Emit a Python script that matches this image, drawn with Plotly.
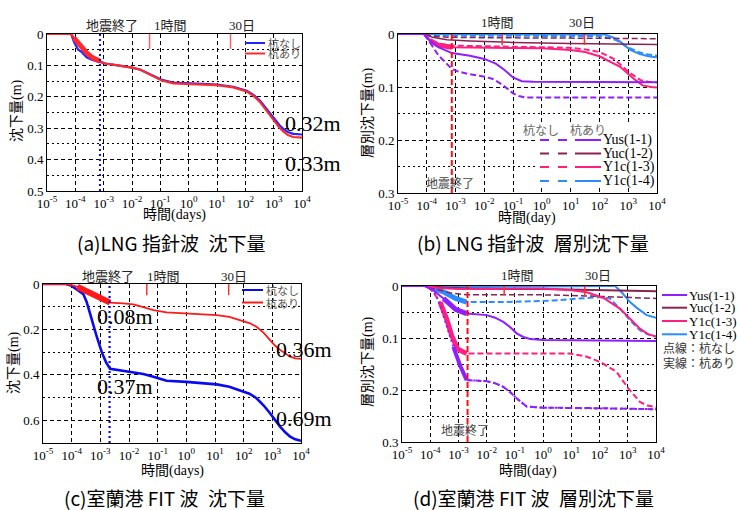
import plotly.graph_objects as go

W, H = 737, 510

# ---------------- tick labels / events ----------------
X_TICK_EXP = [-5, -4, -3, -2, -1, 0, 1, 2, 3, 4]
X_TICK_TEXT = ["10<sup>-5</sup>", "10<sup>-4</sup>", "10<sup>-3</sup>", "10<sup>-2</sup>", "10<sup>-1</sup>",
               "10<sup>0</sup>", "10<sup>1</sup>", "10<sup>2</sup>", "10<sup>3</sup>", "10<sup>4</sup>"]
Y_TICKS_A = [0, 0.1, 0.2, 0.3, 0.4, 0.5]
Y_MINOR_A = [0.05, 0.15, 0.25, 0.35, 0.45]
Y_TICKS_B = [0, 0.1, 0.2, 0.3]
Y_MINOR_B = [0.05, 0.15, 0.25]
Y_TICKS_C = [0, 0.2, 0.4, 0.6]
Y_MINOR_C = [0.1, 0.3, 0.5, 0.7]

T_1HOUR = 1 / 24
T_30DAYS = 30
T_EQ_END_LNG = 7.4e-4
T_EQ_END_FIT = 2.1e-3

# ---------------- (a) LNG 指針波 沈下量 ----------------
A_LOGT = [-5.0, -4.15, -4.05, -3.9, -3.77, -3.6, -3.4, -3.13, -2.95, -2.5, -2.0, -1.7, -1.42, -1.2, -0.95,
          -0.54, 0.0, 0.5, 1.0, 1.57, 2.05, 2.3, 2.52, 2.75, 3.0, 3.2, 3.34, 3.5, 3.69, 4.0]
A_NASHI = [0.0, 0.0, 0.025, 0.05, 0.058, 0.074, 0.083, 0.09, 0.094, 0.1, 0.107, 0.114, 0.125, 0.136, 0.146,
           0.155, 0.158, 0.159, 0.161, 0.168, 0.181, 0.195, 0.213, 0.24, 0.266, 0.29, 0.302, 0.312, 0.318, 0.32]
A_ARI = [0.0, 0.0, 0.012, 0.03, 0.045, 0.06, 0.075, 0.087, 0.094, 0.1, 0.107, 0.114, 0.126, 0.138, 0.148,
         0.157, 0.16, 0.161, 0.163, 0.17, 0.183, 0.198, 0.217, 0.245, 0.273, 0.298, 0.31, 0.322, 0.328, 0.33]

# ---------------- (b) LNG 指針波 層別沈下量 ----------------
B_YUS_NASHI_LOGT = [-5, -4.1, -3.9, -3.6, -3.13, -2.9, -2.5, -2.03, -1.7, -1.45, -1.2, -1.0, -0.8, -0.55, 0, 4]
B_YUS_NASHI = [0, 0, 0.015, 0.04, 0.066, 0.071, 0.076, 0.080, 0.085, 0.093, 0.103, 0.112, 0.117, 0.12, 0.12, 0.12]
B_YUS_ARI_LOGT = [-5, -4.1, -3.9, -3.6, -3.13, -2.5, -2.0, -1.6, -1.3, -1.0, -0.7, -0.3, 4]
B_YUS_ARI = [0, 0, 0.012, 0.025, 0.036, 0.041, 0.047, 0.056, 0.068, 0.082, 0.089, 0.09, 0.091]
B_YUC_NASHI_LOGT = [-5, -4.1, -3.8, -3.3, -2, 0, 2, 4]
B_YUC_NASHI = [0, 0, 0.004, 0.006, 0.007, 0.007, 0.008, 0.009]
B_YUC_ARI_LOGT = [-5, -4.1, -3.8, -3.3, -2.5, -1, 1, 2, 4]
B_YUC_ARI = [0, 0, 0.006, 0.011, 0.013, 0.016, 0.018, 0.019, 0.02]
B_Y13_NASHI_LOGT = [-5, -4.1, -3.9, -3.6, -3.13, -2, 0, 1, 1.5, 2.0, 2.5, 3.07, 3.43, 3.7, 4]
B_Y13_NASHI = [0, 0, 0.01, 0.018, 0.022, 0.023, 0.024, 0.026, 0.029, 0.034, 0.047, 0.074, 0.087, 0.09, 0.091]
B_Y13_ARI_LOGT = [-5, -4.1, -3.9, -3.6, -3.13, -2, 0, 1, 1.5, 2.0, 2.72, 3.18, 3.5, 3.8, 4]
B_Y13_ARI = [0, 0, 0.012, 0.021, 0.025, 0.026, 0.027, 0.03, 0.034, 0.042, 0.062, 0.084, 0.097, 0.1, 0.101]
B_Y14_NASHI_LOGT = [-5, -4.1, -3.8, -3.0, 2.0, 2.3, 2.6, 2.95, 3.3, 3.6, 4]
B_Y14_NASHI = [0, 0, 0.002, 0.003, 0.004, 0.007, 0.012, 0.024, 0.033, 0.038, 0.041]
B_Y14_ARI_LOGT = [-5, -4.1, -3.5, 2.19, 2.45, 2.72, 3.07, 3.41, 3.7, 4]
B_Y14_ARI = [0, 0, 0.001, 0.001, 0.006, 0.0145, 0.03, 0.038, 0.042, 0.044]

# ---------------- (c) 室蘭港 FIT 波 沈下量 ----------------
C_NASHI_LOGT = [-5, -4.2, -4.0, -3.85, -3.71, -3.59, -3.48, -3.36, -3.25, -3.13, -2.95, -2.8, -2.66, -2.3, -1.85,
                -1.5, -1.15, -0.69, 0, 1.06, 1.5, 1.87, 2.2, 2.45, 2.7, 2.92, 3.1, 3.27, 3.45, 3.62, 3.8, 4]
C_NASHI = [0, 0, 0.008, 0.02, 0.034, 0.045, 0.078, 0.129, 0.18, 0.23, 0.3, 0.345, 0.373, 0.38, 0.386,
           0.396, 0.408, 0.426, 0.431, 0.442, 0.452, 0.467, 0.483, 0.503, 0.535, 0.569, 0.6, 0.628, 0.653, 0.672,
           0.684, 0.69]
C_ARI_LOGT = [-5, -4.2, -4.0, -3.8, -3.59, -3.3, -3.0, -2.8, -2.66, -2.2, -1.85, -1.5, -1.15, -0.69, 0, 1.06,
              1.5, 1.87, 2.2, 2.45, 2.7, 2.92, 3.1, 3.27, 3.45, 3.62, 3.8, 4]
C_ARI = [0, 0, 0.005, 0.012, 0.025, 0.045, 0.063, 0.075, 0.082, 0.085, 0.09, 0.102, 0.115, 0.125, 0.13, 0.137,
         0.145, 0.158, 0.172, 0.188, 0.215, 0.247, 0.272, 0.29, 0.307, 0.32, 0.327, 0.33]

# ---------------- (d) 室蘭港 FIT 波 層別沈下量 ----------------
D_YUS_NASHI_LOGT = [-5, -4.2, -3.95, -3.8, -3.65, -3.42, -3.18, -2.94, -2.71, -2.0, -1.7, -1.41, -1.15, -0.94,
                    -0.58, 0, 2, 4]
D_YUS_NASHI = [0, 0, 0.005, 0.018, 0.037, 0.076, 0.117, 0.153, 0.181, 0.183, 0.187, 0.194, 0.205, 0.216,
               0.232, 0.234, 0.235, 0.237]
D_YUS_ARI_LOGT = [-5, -4.2, -3.9, -3.53, -3.1, -2.71, -2.0, -1.7, -1.41, -1.15, -0.94, -0.7, -0.46, 0, 4]
D_YUS_ARI = [0, 0, 0.008, 0.024, 0.045, 0.053, 0.056, 0.061, 0.069, 0.08, 0.091, 0.098, 0.102, 0.104, 0.106]
D_YUC_NASHI_LOGT = [-5, -4.2, -3.8, -3.3, -2.71, 0, 1.5, 2.5, 4]
D_YUC_NASHI = [0, 0, 0.006, 0.013, 0.017, 0.017, 0.019, 0.021, 0.024]
D_YUC_ARI_LOGT = [-5, -4.2, -3.5, -2.7, 0, 2, 4]
D_YUC_ARI = [0, 0, 0.003, 0.005, 0.006, 0.008, 0.01]
D_Y13_NASHI_LOGT = [-5, -4.1, -3.89, -3.65, -3.42, -3.24, -3.03, -2.71, 0, 0.95, 1.5, 2.02, 2.6, 3.02, 3.43,
                    3.7, 4]
D_Y13_NASHI = [0, 0, 0.012, 0.031, 0.063, 0.095, 0.121, 0.13, 0.13, 0.13, 0.135, 0.146, 0.165, 0.197, 0.223,
               0.23, 0.233]
D_Y13_ARI_LOGT = [-5, -4.1, -3.7, -3.0, -1, 0, 1.0, 1.55, 2.14, 2.73, 3.08, 3.43, 3.7, 4]
D_Y13_ARI = [0, 0, 0.004, 0.006, 0.005, 0.005, 0.008, 0.012, 0.023, 0.044, 0.063, 0.082, 0.092, 0.097]
D_Y14_NASHI_LOGT = [-5, -4.1, -3.9, -3.5, -3.1, -2.71, -1.5, 0.36, 1.55, 2.02, 2.37, 2.73, 3.08, 3.43, 3.7, 4]
D_Y14_NASHI = [0, 0, 0.004, 0.012, 0.024, 0.031, 0.031, 0.028, 0.023, 0.021, 0.024, 0.044, 0.066, 0.085,
               0.093, 0.097]
D_Y14_ARI_LOGT = [-5, -4.1, -3.5, -2.7, 2.3, 2.55, 2.8, 3.08, 3.32, 3.67, 4]
D_Y14_ARI = [0, 0, 0.002, 0.002, 0.0, 0.0, 0.013, 0.031, 0.042, 0.056, 0.061]

LAYER_NAMES = ["Yus(1-1)", "Yuc(1-2)", "Y1c(1-3)", "Y1c(1-4)"]

# ---------------- styles ----------------
SERIF = "Liberation Serif, Noto Sans CJK JP"
SANS = "Noto Sans CJK JP"
C_BLUE_A, C_RED_A = "#2424FF", "#FF2A2A"
C_BLUE_C, C_RED_C = "#0A0AF0", "#FF1A1A"
C_PURPLE, C_MAROON, C_PINK, C_SKY = "#8F1FFF", "#8B2252", "#FF1F7F", "#2A8CFF"
LAYER_COLORS = [C_PURPLE, C_MAROON, C_PINK, C_SKY]
DASH = "6px,3px"
GRID_DASH = "4px,3px"
GRID_DOT = "2px,3px"

# plot areas in pixels (x0, x1, y0(top), y1(bottom))
DOM = {
    "a": (47, 302, 34, 191),
    "b": (398, 657, 34, 193),
    "c": (43, 301, 284, 443),
    "d": (402, 656, 286, 442),
}
AX = {"a": ("x", "y"), "b": ("x2", "y2"), "c": ("x3", "y3"), "d": ("x4", "y4")}


def tvals(logt):
    return [10 ** v for v in logt]


def seg(logt, vals, lo, hi):
    pts = [(t, v) for t, v in zip(logt, vals) if lo <= t <= hi]
    return [p[0] for p in pts], [p[1] for p in pts]


fig = go.Figure()


def line(panel, logt, vals, color, width=2, dash=None):
    xa, ya = AX[panel]
    fig.add_trace(go.Scatter(x=tvals(logt), y=vals, mode="lines", xaxis=xa, yaxis=ya, showlegend=False,
                             line=dict(color=color, width=width, dash=dash), hoverinfo="skip"))


def band(panel, logt, vals, lo, hi, color, width):
    lt, vv = seg(logt, vals, lo, hi)
    line(panel, lt, vv, color, width)


# (a)
line("a", A_LOGT, A_NASHI, C_BLUE_A, 2.2)
line("a", A_LOGT, A_ARI, C_RED_A, 2.2)
band("a", A_LOGT, A_ARI, -4.1, -3.0, C_RED_A, 5)

# (b)
line("b", B_Y14_NASHI_LOGT, B_Y14_NASHI, C_SKY, 2, DASH)
line("b", B_Y14_ARI_LOGT, B_Y14_ARI, C_SKY, 2)
line("b", B_YUC_NASHI_LOGT, B_YUC_NASHI, C_MAROON, 1.5, DASH)
line("b", B_YUC_ARI_LOGT, B_YUC_ARI, C_MAROON, 1.5)
line("b", B_Y13_NASHI_LOGT, B_Y13_NASHI, C_PINK, 2, DASH)
line("b", B_Y13_ARI_LOGT, B_Y13_ARI, C_PINK, 2)
band("b", B_Y13_ARI_LOGT, B_Y13_ARI, -3.9, -3.13, C_PINK, 5)
line("b", B_YUS_NASHI_LOGT, B_YUS_NASHI, C_PURPLE, 2, DASH)
line("b", B_YUS_ARI_LOGT, B_YUS_ARI, C_PURPLE, 2)

# (c)
line("c", C_NASHI_LOGT, C_NASHI, C_BLUE_C, 2.6)
line("c", C_ARI_LOGT, C_ARI, C_RED_C, 1.8)
band("c", C_ARI_LOGT, C_ARI, -3.8, -2.66, C_RED_C, 6)

# (d)
line("d", D_Y14_NASHI_LOGT, D_Y14_NASHI, C_SKY, 2, DASH)
band("d", D_Y14_NASHI_LOGT, D_Y14_NASHI, -3.9, -2.71, C_SKY, 5)
line("d", D_Y14_ARI_LOGT, D_Y14_ARI, C_SKY, 2)
line("d", D_YUC_NASHI_LOGT, D_YUC_NASHI, C_MAROON, 1.5, DASH)
line("d", D_YUC_ARI_LOGT, D_YUC_ARI, C_MAROON, 2)
line("d", D_Y13_NASHI_LOGT, D_Y13_NASHI, C_PINK, 2, DASH)
band("d", D_Y13_NASHI_LOGT, D_Y13_NASHI, -3.65, -2.71, C_PINK, 5)
line("d", D_Y13_ARI_LOGT, D_Y13_ARI, C_PINK, 2)
line("d", D_YUS_NASHI_LOGT, D_YUS_NASHI, C_PURPLE, 2, "2px,3px")
band("d", D_YUS_NASHI_LOGT, D_YUS_NASHI, -3.3, -2.71, C_PURPLE, 4)
line("d", D_YUS_NASHI_LOGT[8:], D_YUS_NASHI[8:], C_PURPLE, 2, DASH)
line("d", D_YUS_ARI_LOGT, D_YUS_ARI, C_PURPLE, 2)
band("d", D_YUS_ARI_LOGT, D_YUS_ARI, -3.53, -2.71, C_PURPLE, 5)


# ---------------- axes ----------------
def xaxis_cfg(p):
    x0, x1, y0, y1 = DOM[p]
    return dict(domain=[x0 / W, x1 / W], anchor=AX[p][1], type="log", range=[-5, 4], automargin=False,
                tickvals=tvals(X_TICK_EXP), ticktext=X_TICK_TEXT, ticks="",
                tickfont=dict(family=SERIF, size=13, color="black"),
                showgrid=True, gridcolor="black", gridwidth=1, griddash=GRID_DASH,
                showline=True, linecolor="black", linewidth=1, mirror=True, zeroline=False)


def yaxis_cfg(p, ymax, ticks, minor):
    x0, x1, y0, y1 = DOM[p]
    return dict(domain=[1 - y1 / H, 1 - y0 / H], anchor=AX[p][0], range=[ymax, 0], automargin=False,
                tickvals=ticks, ticktext=[("%g" % v) for v in ticks], ticks="",
                tickfont=dict(family=SERIF, size=13, color="black"),
                showgrid=True, gridcolor="black", gridwidth=1, griddash=GRID_DASH,
                minor=dict(tickvals=minor, showgrid=True, gridcolor="black", gridwidth=1, griddash=GRID_DOT,
                           ticks=""),
                showline=True, linecolor="black", linewidth=1, mirror=True, zeroline=False)


layout = dict(width=W, height=H, margin=dict(l=0, r=0, t=0, b=0, pad=0, autoexpand=False),
              paper_bgcolor="white", plot_bgcolor="white", showlegend=False)
layout["xaxis"] = xaxis_cfg("a")
layout["yaxis"] = yaxis_cfg("a", 0.5, Y_TICKS_A, Y_MINOR_A)
layout["xaxis2"] = xaxis_cfg("b")
layout["yaxis2"] = yaxis_cfg("b", 0.3, Y_TICKS_B, Y_MINOR_B)
layout["xaxis3"] = xaxis_cfg("c")
layout["yaxis3"] = yaxis_cfg("c", 0.7, Y_TICKS_C, Y_MINOR_C)
layout["xaxis4"] = xaxis_cfg("d")
layout["yaxis4"] = yaxis_cfg("d", 0.3, Y_TICKS_B, Y_MINOR_B)
fig.update_layout(**layout)

# ---------------- shapes ----------------
shapes = []


def event_tick(p, t, frac, color="#FF3030"):
    xa, ya = AX[p]
    shapes.append(dict(type="line", xref=xa, yref=ya + " domain", x0=t, x1=t, y0=1, y1=1 - frac,
                       line=dict(color=color, width=1.5)))


def vline(p, t, color, width, dash):
    xa, ya = AX[p]
    shapes.append(dict(type="line", xref=xa, yref=ya + " domain", x0=t, x1=t, y0=0, y1=1,
                       line=dict(color=color, width=width, dash=dash)))


def pline(x0, y0, x1, y1, color, width=2, dash=None):
    shapes.append(dict(type="line", xref="paper", yref="paper", x0=x0 / W, x1=x1 / W, y0=1 - y0 / H,
                       y1=1 - y1 / H, line=dict(color=color, width=width, dash=dash), layer="above"))


event_tick("a", T_1HOUR, 0.095, "#FF6060")
event_tick("a", T_30DAYS, 0.095, "#FF6060")
event_tick("b", T_1HOUR, 0.07)
event_tick("b", T_30DAYS, 0.07)
event_tick("c", T_1HOUR, 0.07)
event_tick("c", T_30DAYS, 0.07)
event_tick("d", T_1HOUR, 0.06)
event_tick("d", T_30DAYS, 0.06)

vline("a", T_EQ_END_LNG, "#1010CC", 2, "2px,3px")
vline("b", T_EQ_END_LNG, "#FF1010", 2, DASH)
vline("c", T_EQ_END_FIT, "#1010CC", 2.2, "2px,3px")
vline("d", T_EQ_END_FIT, "#FF1010", 2, DASH)

# legend (a)
pline(245, 43, 265, 43, C_BLUE_A, 2)
pline(245, 53.5, 265, 53.5, C_RED_A, 2)
# legend (c)
pline(242, 290, 263, 290, C_BLUE_C, 2)
pline(242, 302.5, 263, 302.5, C_RED_C, 2)
# legend (b): white box over grid
shapes.append(dict(type="rect", xref="paper", yref="paper", x0=536 / W, x1=656 / W, y0=1 - 188 / H,
                   y1=1 - 125 / H, fillcolor="white", line=dict(width=0), layer="above"))
B_ROWS = [140, 153.5, 167, 181]
for yy, c in zip(B_ROWS, LAYER_COLORS):
    pline(540, yy, 570, yy, c, 2, "dash")
    pline(575, yy, 601, yy, c, 2)
# legend (d)
D_ROWS = [295, 307.7, 321, 334.3]
for yy, c in zip(D_ROWS, LAYER_COLORS):
    pline(662, yy, 687, yy, c, 2)

fig.update_layout(shapes=shapes)

# ---------------- annotations ----------------
anns = []


def ann(text, x, y, size, family=SERIF, color="black", xanchor="center", angle=0):
    anns.append(dict(text=text, x=x / W, y=1 - y / H, xref="paper", yref="paper", showarrow=False,
                     xanchor=xanchor, yanchor="middle", textangle=angle,
                     font=dict(family=family, size=size, color=color)))


# top event labels
ann("地震終了", 111.5, 25.5, 13, color="#222")
ann("1時間", 170, 25.5, 13, color="#222")
ann("30日", 242, 25.5, 13, color="#222")
ann("1時間", 497, 23, 13, color="#222")
ann("30日", 582, 23, 13, color="#222")
ann("地震終了", 450, 183, 12, color="#444")
ann("地震終了", 108, 276.5, 13, color="#222")
ann("1時間", 163, 276.5, 13, color="#222")
ann("30日", 234, 276.5, 13, color="#222")
ann("1時間", 517, 275.5, 13, color="#222")
ann("30日", 598, 275.5, 13, color="#222")
ann("地震終了", 465, 430, 12, color="#444")

# values
ann("0.32m", 313, 123, 22)
ann("0.33m", 313, 164, 22)
ann("0.08m", 125, 316.5, 22)
ann("0.37m", 125, 386.5, 22)
ann("0.36m", 304, 349, 22)
ann("0.69m", 304, 418, 22)

# legends text
ann("杭なし", 266, 43, 11, SANS, "#555", "left")
ann("杭あり", 266, 53.5, 11, SANS, "#555", "left")
ann("杭なし", 264, 290, 11, SANS, "#555", "left")
ann("杭あり", 264, 302.5, 11, SANS, "#555", "left")
ann("杭なし", 541, 129.5, 12, SANS, "#666")
ann("杭あり", 588, 129.5, 12, SANS, "#666")
for yy, name in zip(B_ROWS, LAYER_NAMES):
    ann(name, 601, yy, 14, "Liberation Serif", "black", "left")
for yy, name in zip(D_ROWS, LAYER_NAMES):
    ann(name, 687, yy, 13, "Liberation Serif", "black", "left")
ann("点線：杭なし", 661, 347, 12, SANS, "#333", "left")
ann("実線：杭あり", 661, 362, 12, SANS, "#333", "left")

# axis titles
ann("沈下量(m)", 17, 111, 14, angle=-90)
ann("層別沈下量(m)", 368, 113, 14, angle=-90)
ann("沈下量(m)", 14, 363, 14, angle=-90)
ann("層別沈下量(m)", 368, 362, 14, angle=-90)
ann("時間(days)", 174, 215, 14)
ann("時間(day)", 527, 218, 14)
ann("時間(days)", 172, 471, 14)
ann("時間(day)", 528, 471, 14)

# captions
ann("(a)LNG 指針波\u2002沈下量", 171, 242.5, 19, SANS)
ann("(b) LNG 指針波\u2002層別沈下量", 533, 242.5, 19, SANS)
ann("(c)室蘭港 FIT 波\u2002沈下量", 164, 497, 19, SANS)
ann("(d)室蘭港 FIT 波\u2002層別沈下量", 533, 497, 19, SANS)

fig.update_layout(annotations=anns)

fig.write_html("out.html", config={"displayModeBar": False},
               post_script="document.body.style.margin='0';document.body.style.overflow='hidden';")
